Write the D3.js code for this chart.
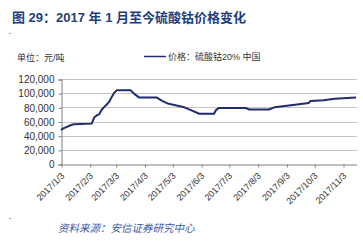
<!DOCTYPE html>
<html>
<head>
<meta charset="utf-8">
<script src="https://cdn.jsdelivr.net/npm/d3@7"></script>
<style>
  html, body { margin: 0; padding: 0; background: #fff; }
  svg { display: block; font-family: Arial, "Liberation Sans", "Noto Sans CJK SC", sans-serif; }
</style>
</head>
<body>
<svg id="chart" width="363" height="241"></svg>
<script>
'use strict';

// price series, 硫酸钴20% 中国 (元/吨)
var dates = ['2017-01-03', '2017-01-05', '2017-01-14', '2017-01-17', '2017-02-05', '2017-02-08',
    '2017-02-11', '2017-02-13', '2017-02-16', '2017-02-19', '2017-02-22', '2017-02-24',
    '2017-02-26', '2017-03-01', '2017-03-04', '2017-03-19', '2017-03-23', '2017-03-28',
    '2017-04-16', '2017-04-22', '2017-04-29', '2017-05-10', '2017-05-16', '2017-05-23',
    '2017-06-01', '2017-06-17', '2017-06-19', '2017-06-22', '2017-07-21', '2017-07-25',
    '2017-08-15', '2017-08-21', '2017-09-08', '2017-09-27', '2017-09-29', '2017-10-13',
    '2017-10-25', '2017-11-17'];
var prices = [48000, 50000, 55000, 56000, 57000, 66000,
    69000, 70000, 77000, 81000, 85000, 88000,
    93000, 100000, 104000, 104000, 99000, 94000,
    94000, 89000, 85000, 82000, 80000, 76000,
    71000, 71000, 76000, 79000, 79000, 77000,
    77000, 80000, 83000, 86000, 89000, 90000,
    92000, 94000];

var tickDates = ['2017-01-03', '2017-02-03', '2017-03-03', '2017-04-03', '2017-05-03', '2017-06-03',
    '2017-07-03', '2017-08-03', '2017-09-03', '2017-10-03', '2017-11-03'];
var yTicks = [0, 20000, 40000, 60000, 80000, 100000, 120000];

var titleText = '图 29：2017 年 1 月至今硫酸钴价格变化';
var unitText = '单位：元/吨';
var legendText = '价格：硫酸钴20% 中国';
var sourceText = '资料来源：安信证券研究中心';

var parse = d3.timeParse('%Y-%m-%d');
var fmtTick = function (d) {
    return d.getFullYear() + '/' + (d.getMonth() + 1) + '/' + d.getDate();
};

var data = dates.map(function (d, i) {
    return { date: parse(d), value: prices[i] };
});

var svg = d3.select('#chart');

var plotLeft = 61, plotRight = 356, plotTop = 79, plotBottom = 164;

var x = d3.scaleTime()
    .domain([parse('2017-01-03'), parse('2017-11-17')])
    .range([plotLeft, plotRight]);
var y = d3.scaleLinear()
    .domain([0, 120000])
    .range([plotBottom, plotTop]);

// title
svg.append('text')
    .attr('x', 12)
    .attr('y', 22)
    .attr('font-size', 13)
    .attr('font-weight', 'bold')
    .attr('fill', '#1f3e7c')
    .attr('font-family', 'Arial, "Noto Sans CJK SC", sans-serif')
    .text(titleText);

// small marks in the page margin
svg.append('rect').attr('x', 9).attr('y', 33).attr('width', 2).attr('height', 1).attr('fill', '#999');
svg.append('rect').attr('x', 9).attr('y', 218).attr('width', 2).attr('height', 1).attr('fill', '#999');

// unit + legend
svg.append('text')
    .attr('x', 17)
    .attr('y', 61)
    .attr('font-size', 9)
    .attr('fill', '#333')
    .text(unitText);

svg.append('line')
    .attr('x1', 144).attr('x2', 166)
    .attr('y1', 56.5).attr('y2', 56.5)
    .attr('stroke', '#1f2d6b')
    .attr('stroke-width', 1.5);

svg.append('text')
    .attr('x', 168)
    .attr('y', 60)
    .attr('font-size', 9)
    .attr('fill', '#333')
    .text(legendText);

// gridlines
svg.append('g')
    .selectAll('line')
    .data(yTicks.filter(function (v) { return v > 0; }))
    .enter().append('line')
    .attr('x1', plotLeft).attr('x2', plotRight + 1)
    .attr('y1', function (d) { return Math.round(y(d)) + 0.5; })
    .attr('y2', function (d) { return Math.round(y(d)) + 0.5; })
    .attr('stroke', '#c4c4c4')
    .attr('stroke-width', 1);

// y axis
var yAxis = svg.append('g')
    .attr('transform', 'translate(' + (plotLeft + 0.5) + ',0.5)')
    .call(d3.axisLeft(y).tickValues(yTicks).tickSize(3).tickFormat(d3.format(',')));
yAxis.select('.domain').attr('stroke', '#808080');
yAxis.selectAll('.tick line').attr('stroke', '#808080');
yAxis.selectAll('text')
    .attr('font-size', 10)
    .attr('fill', '#333')
    .attr('font-family', 'Arial, "Liberation Sans", sans-serif')
    .attr('x', -7);

// x axis
var xAxis = svg.append('g')
    .attr('transform', 'translate(0.5,' + (plotBottom + 0.5) + ')')
    .call(d3.axisBottom(x).tickValues(tickDates.map(parse)).tickSize(3).tickSizeOuter(0).tickFormat(fmtTick));
xAxis.select('.domain').attr('stroke', '#808080');
xAxis.selectAll('.tick line').attr('stroke', '#808080');
xAxis.selectAll('text')
    .attr('font-size', 9)
    .attr('fill', '#333')
    .attr('font-family', 'Arial, "Liberation Sans", sans-serif')
    .attr('text-anchor', 'end')
    .attr('dy', 0)
    .attr('x', 0)
    .attr('y', 0)
    .attr('transform', 'translate(3,12) rotate(-45)');

// price line
var line = d3.line()
    .x(function (d) { return x(d.date); })
    .y(function (d) { return y(d.value); });

svg.append('path')
    .datum(data)
    .attr('fill', 'none')
    .attr('stroke', '#1f2d6b')
    .attr('stroke-width', 2)
    .attr('stroke-linejoin', 'round')
    .attr('d', line);

// source
svg.append('text')
    .attr('x', 58)
    .attr('y', 232)
    .attr('font-size', 10.5)
    .attr('font-style', 'italic')
    .attr('fill', '#3a56a8')
    .attr('font-family', '"Noto Sans CJK SC", sans-serif')
    .text(sourceText);
</script>
</body>
</html>
